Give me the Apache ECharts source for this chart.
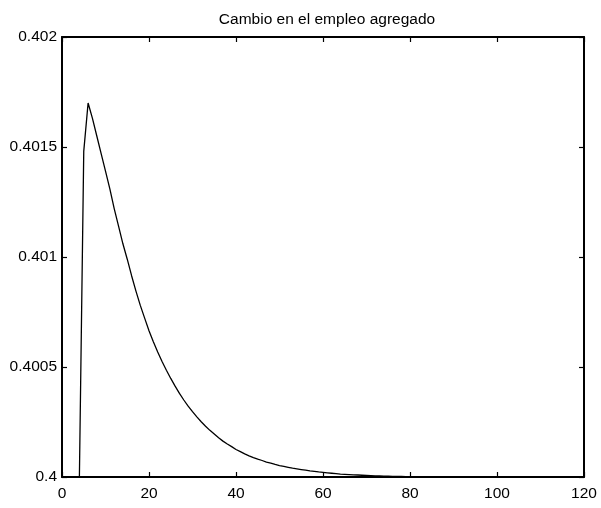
<!DOCTYPE html>
<html>
<head>
<meta charset="utf-8">
<script src="https://cdn.jsdelivr.net/npm/echarts@6/dist/echarts.min.js"></script>
<style>
  html, body { margin: 0; padding: 0; background: #fff; }
  #chart { width: 601px; height: 508px; }
</style>
</head>
<body>
<div id="chart"></div>
<script>
// Periods (quarters after the shock)
const periods = [];
for (let t = 1; t <= 120; t++) periods.push(t);

// Aggregate employment response, one value per period
const employment = [
  0.400000, 0.400000, 0.400000, 0.400000, 0.401480, 0.401700, 0.401630, 0.401550, 0.401470, 0.401390,
  0.401310, 0.401220, 0.401140, 0.401060, 0.400990, 0.400915, 0.400845, 0.400780, 0.400722, 0.400665,
  0.400615, 0.400568, 0.400525, 0.400485, 0.400448, 0.400413, 0.400380, 0.400350, 0.400322, 0.400297,
  0.400273, 0.400251, 0.400231, 0.400212, 0.400195, 0.400178, 0.400163, 0.400150, 0.400138, 0.400125,
  0.400115, 0.400105, 0.400096, 0.400088, 0.400081, 0.400075, 0.400068, 0.400063, 0.400057, 0.400052,
  0.400048, 0.400044, 0.400040, 0.400037, 0.400034, 0.400031, 0.400028, 0.400026, 0.400023, 0.400021,
  0.400019, 0.400017, 0.400015, 0.400013, 0.400012, 0.400011, 0.400010, 0.400009, 0.400008, 0.400007,
  0.400006, 0.400005, 0.400005, 0.400004, 0.400004, 0.400003, 0.400003, 0.400003, 0.400002, 0.400002,
  0.400002, 0.400002, 0.400001, 0.400001, 0.400001, 0.400001, 0.400001, 0.400001, 0.400001, 0.400001,
  0.400001, 0.400001, 0.400001, 0.400001, 0.400001, 0.400000, 0.400000, 0.400000, 0.400000, 0.400000,
  0.400000, 0.400000, 0.400000, 0.400000, 0.400000, 0.400000, 0.400000, 0.400000, 0.400000, 0.400000,
  0.400000, 0.400000, 0.400000, 0.400000, 0.400000, 0.400000, 0.400000, 0.400000, 0.400000, 0.400000
];

// Axis ranges and tick steps
const xRange = [0, 120];
const xStep = 20;
const yRange = [0.4, 0.402];
const yStep = 0.0005;

const titleText = 'Cambio en el empleo agregado';

const FONT = "'Liberation Sans', Arial, sans-serif";
const fmtY = v => String(parseFloat(v.toFixed(4)));

const axisLine = { show: true, onZero: false, lineStyle: { color: '#000', width: 2 } };
const tickIn = { show: true, inside: true, length: 5, lineStyle: { color: '#000', width: 1.2 } };
const labelStyle = { color: '#000', fontFamily: FONT, fontSize: 15.5 };

const chart = echarts.init(document.getElementById('chart'), null, { renderer: 'canvas' });
chart.setOption({
  animation: false,
  backgroundColor: '#fff',
  title: {
    text: titleText,
    left: 322,
    textAlign: 'center',
    top: 7,
    textStyle: { color: '#000', fontFamily: FONT, fontSize: 15.5, fontWeight: 'normal' }
  },
  grid: { left: 62, right: 17, top: 37, bottom: 31, outerBoundsMode: 'none' },
  xAxis: [
    {
      type: 'value', position: 'bottom', min: xRange[0], max: xRange[1], interval: xStep,
      axisLine, axisTick: tickIn, splitLine: { show: false },
      axisLabel: Object.assign({ margin: 9 }, labelStyle)
    },
    {
      type: 'value', position: 'top', min: xRange[0], max: xRange[1], interval: xStep,
      axisLine, axisTick: tickIn, splitLine: { show: false }, axisLabel: { show: false }
    }
  ],
  yAxis: [
    {
      type: 'value', position: 'left', min: yRange[0], max: yRange[1], interval: yStep,
      axisLine, axisTick: tickIn, splitLine: { show: false },
      axisLabel: Object.assign({ margin: 5, formatter: fmtY }, labelStyle)
    },
    {
      type: 'value', position: 'right', min: yRange[0], max: yRange[1], interval: yStep,
      axisLine, axisTick: tickIn, splitLine: { show: false }, axisLabel: { show: false }
    }
  ],
  series: [{
    type: 'line',
    xAxisIndex: 0,
    yAxisIndex: 0,
    data: periods.map((t, i) => [t, employment[i]]),
    showSymbol: false,
    smooth: false,
    lineStyle: { color: '#000', width: 1.3 },
    clip: true
  }]
});
</script>
</body>
</html>
